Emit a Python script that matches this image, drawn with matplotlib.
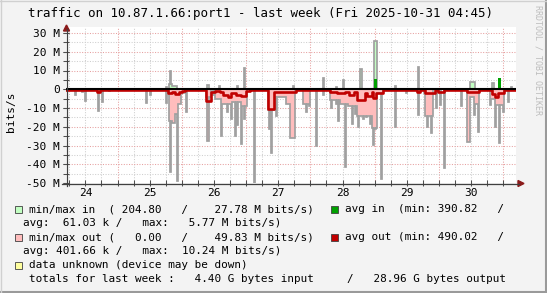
import numpy as np
import matplotlib.pyplot as plt
from matplotlib.patches import Rectangle, Polygon
from matplotlib.lines import Line2D

W, H = 547, 293
MONO = 'DejaVu Sans Mono'

# time axis in day-of-month: Oct 24 04:45 -> Oct 31 04:45
t_start = 24 + 4.75 / 24
t_end = t_start + 7
day_ticks = [24.5, 25.5, 26.5, 27.5, 28.5, 29.5, 30.5]
day_labels = ['24', '25', '26', '27', '28', '29', '30']

y_ticks = [30, 20, 10, 0, -10, -20, -30, -40, -50]
y_labels = ['30 M', '20 M', '10 M', '0', '-10 M', '-20 M', '-30 M', '-40 M', '-50 M']

# min/max out: narrow spikes (day, Mbit/s)
out_spike_day = [24.338, 24.447, 24.509, 24.707, 24.769, 24.882, 25.453, 25.516,
                 25.764, 25.827, 25.936, 26.065, 26.407, 26.489, 26.620, 26.713,
                 26.776, 26.842, 26.869, 26.931, 26.982, 27.127, 27.356, 27.398,
                 27.476, 27.605, 27.942, 27.978, 28.087, 28.200, 28.331, 28.398,
                 28.434, 28.538, 28.589, 28.658, 28.704, 28.745, 28.823, 28.875,
                 28.942, 28.978, 29.020, 29.103, 29.331, 29.498, 29.678, 29.767,
                 29.824, 29.887, 29.954, 30.027, 30.078, 30.353, 30.471, 30.560,
                 30.622, 30.809, 30.882, 30.938, 31.011, 31.089]
out_spike_val = [-3.2, -1.5, -6, -11.8, -7, -1, -7.5, -3,
                 -7.5, -44, -49, -12, -27.8, -3, -25, -12,
                 -16, -25, -19, -29, -16, -49.8, -21, -34,
                 -14, -3, -12, -9, -30.4, -3, -10, -8,
                 -17, -41.5, -8, -18.6, -13, -20, -16, -15,
                 -18.6, -29.5, -21, -48, -20, -2, -13.6, -2,
                 -20, -23.5, -10, -8.6, -42, -9, -28, -13.6,
                 -22.6, -8.6, -20, -28.6, -12, -6.6]

# min/max out: wider blocks (start day, end day, Mbit/s)
out_band_start = [25.802, 25.849, 25.887, 25.926, 25.987, 26.376, 26.385, 26.516,
                  26.620, 26.780, 26.930, 27.340, 27.450, 27.620, 27.682, 27.885,
                  28.305, 28.461, 28.589, 28.720, 28.953, 29.040, 29.782, 30.431,
                  30.482, 30.560, 30.793, 30.871]
out_band_end = [25.849, 25.887, 25.926, 25.987, 26.065, 26.454, 26.430, 26.620,
                26.780, 26.930, 27.010, 27.450, 27.620, 27.682, 27.760, 27.994,
                28.461, 28.589, 28.720, 28.953, 29.040, 29.129, 29.911, 30.482,
                30.560, 30.622, 30.871, 31.011]
out_band_val = [-17, -18, -13, -8, -2, -4, -27.8, -5,
                -8, -7, -9, -11, -4, -8, -26, -8,
                -5.5, -8, -9, -14, -20.5, -2, -14, -28,
                -4, -8, -5, -8.6]

# min/max in: spikes and blocks
in_spike_day = [25.764, 25.827, 26.578, 26.873, 26.982, 27.734, 28.200, 28.398,
                28.512, 29.331, 29.678, 31.131]
in_spike_val = [1, 10, 2, 2, 11.4, 2, 6, 1,
                5, 2, 12, 1]
in_band_start = [25.802, 25.849, 26.385, 28.775, 28.985, 30.482, 30.830]
in_band_end = [25.849, 25.926, 26.430, 28.810, 29.035, 30.560, 30.860]
in_band_val = [2.8, 1.6, 2.1, 10.8, 26, 3.7, 3.5]

# avg in (start, end, Mbit/s)
avg_in_start = [26.970, 28.740, 28.985, 29.660, 30.340, 30.918]
avg_in_end = [27.000, 28.770, 29.030, 29.700, 30.370, 30.965]
avg_in_val = [0.5, 0.5, 5.7, 0.6, 0.4, 6.0]

# avg out, step breakpoints
avg_out_day = [24.198, 24.680, 24.727, 25.785, 25.847, 25.894, 25.956, 26.002, 26.049,
               26.376, 26.454, 26.516, 26.594, 26.640, 26.718, 26.765, 26.843, 26.920,
               26.998, 27.060, 27.340, 27.433, 27.776, 28.305, 28.414, 28.538, 28.600,
               28.678, 28.725, 28.849, 28.880, 28.958, 28.974, 29.020, 29.051, 29.129,
               29.658, 29.705, 29.782, 29.938, 29.985, 30.078, 30.436, 30.622, 30.825,
               30.871, 30.918, 31.011]
avg_out_val = [-0.6, -1.6, -0.6, -1.8, -1.2, -2.4, -1.6, -1.0, -0.6,
               -6.2, -1.4, -0.8, -1.2, -3.0, -4.0, -2.0, -3.0, -3.8,
               -1.0, -0.6, -10.3, -1.2, -0.6, -1.5, -2.0, -1.5, -3.0,
               -1.5, -5.6, -2.0, -3.5, -1.5, -4.8, -2.0, -1.8, -0.6,
               -1.5, -0.6, -2.0, -0.6, -1.5, -0.6, -1.5, -0.6, -2.5,
               -4.0, -2.0, -0.6]

C_GRAY = '#a0a0a0'
C_PINK = '#ffbdbd'
C_LGREEN = '#c2ffc2'
C_GREEN = '#00a000'
C_RED = '#c00000'


def fx(x):
    return x / W


def fy(y):
    return 1 - y / H


fig = plt.figure(figsize=(W / 100, H / 100), dpi=100, facecolor='#f3f3f3')
ax = fig.add_axes([fx(66), fy(183), 450 / W, 156 / H])
ax.set_facecolor('white')
ax.set_xlim(t_start, t_end)
ax.set_ylim(-50, 33.2)
for s in ax.spines.values():
    s.set_visible(False)

# grid
for d in np.arange(24.25, 31.2, 0.25):
    if d <= t_start or d >= t_end:
        continue
    major = abs(d - round(d)) < 1e-6
    ax.axvline(d, color='#e6a0a0' if major else '#cfcfcf', lw=0.75,
               ls=(0, (1, 1.5)), zorder=0)
for v in range(-45, 35, 5):
    major = v % 10 == 0
    ax.axhline(v, color='#e6a0a0' if major else '#cfcfcf', lw=0.75,
               ls=(0, (1, 1.5)), zorder=0)

# build per-pixel envelopes
edges = np.linspace(t_start, t_end, 451)
centers = (edges[:-1] + edges[1:]) / 2


def envelope(starts, ends, vals, sdays, svals, neg):
    env = np.zeros(len(centers))
    pick = np.minimum if neg else np.maximum
    for s, e, v in zip(starts, ends, vals):
        m = (centers >= s) & (centers < e)
        env[m] = pick(env[m], v)
    for d, v in zip(sdays, svals):
        i = np.argmin(np.abs(centers - d))
        env[i] = pick(env[i], v)
    return env


env_out = envelope(out_band_start, out_band_end, out_band_val, out_spike_day, out_spike_val, True)
env_in = envelope(in_band_start, in_band_end, in_band_val, in_spike_day, in_spike_val, False)

ax.stairs(env_out, edges, baseline=0, fill=True, color=C_PINK, lw=0, zorder=2)
ax.stairs(env_out, edges, baseline=0, color=C_GRAY, lw=1.25, zorder=3)
ax.stairs(env_in, edges, baseline=0, fill=True, color=C_LGREEN, lw=0, zorder=2)
ax.stairs(env_in, edges, baseline=0, color=C_GRAY, lw=1.25, zorder=3)

avg_in = envelope(avg_in_start, avg_in_end, avg_in_val, [], [], False)
ax.stairs(avg_in, edges, baseline=0, fill=True, color=C_GREEN, lw=0, zorder=4)

ax.step(avg_out_day + [t_end], avg_out_val + [avg_out_val[-1]], where='post',
        color=C_RED, lw=1.9, zorder=5)
ax.axhline(0, color='black', lw=1.5, zorder=6)

# ticks
ax.set_yticks(y_ticks)
ax.set_yticklabels(y_labels, family=MONO, fontsize=8)
ax.set_yticks(range(-50, 35, 5), minor=True)
ax.yaxis.remove_overlapping_locs = False
ax.tick_params(axis='y', which='both', direction='inout', length=4, width=0.75,
               color='#505050', pad=2.2)
ax.set_xticks(day_ticks)
ax.set_xticklabels(day_labels, family=MONO, fontsize=8)
ax.set_xticks(np.arange(24.25, 31.2, 0.25), minor=True)
ax.xaxis.remove_overlapping_locs = False
ax.tick_params(axis='x', which='major', length=0, pad=3.6)
ax.tick_params(axis='x', which='minor', direction='inout', length=4, width=0.75,
               color='#505050')
ax.set_xlim(t_start, t_end)

# axes with arrows
fig.add_artist(Line2D([fx(66.5), fx(66.5)], [fy(186), fy(29)], color='#404040', lw=0.9))
fig.add_artist(Line2D([fx(62), fx(519)], [fy(183.5), fy(183.5)], color='#404040', lw=0.9))
fig.add_artist(Polygon([[fx(63.5), fy(31)], [fx(69.5), fy(31)], [fx(66.5), fy(25)]],
                       closed=True, color='#8b1a1a'))
fig.add_artist(Polygon([[fx(518), fy(180.5)], [fx(518), fy(186.5)], [fx(524), fy(183.5)]],
                       closed=True, color='#8b1a1a'))

# texts
fig.text(fx(260.5), fy(13.5), 'traffic on 10.87.1.66:port1 - last week (Fri 2025-10-31 04:45)',
         family=MONO, fontsize=9, ha='center', va='center')
fig.text(fx(11), fy(112), 'bits/s', family=MONO, fontsize=8, rotation=90,
         ha='center', va='center')
fig.text(fx(538), fy(5), 'RRDTOOL / TOBI OETIKER', family=MONO, fontsize=6,
         rotation=270, ha='center', va='top', color='#bdbdbd')

rows = [
    (209.5, 29, 'min/max in  ( 204.80   /    27.78 M bits/s)'),
    (209.5, 345, 'avg in  (min: 390.82   /'),
    (223.0, 22.7, 'avg:  61.03 k /   max:   5.77 M bits/s)'),
    (237.3, 29, 'min/max out (   0.00   /    49.83 M bits/s)'),
    (237.3, 345, 'avg out (min: 490.02   /'),
    (250.8, 22.7, 'avg: 401.66 k /   max:  10.24 M bits/s)'),
    (265.3, 29, 'data unknown (device may be down)'),
    (278.8, 29, 'totals for last week :   4.40 G bytes input     /   28.96 G bytes output'),
]
for y, x, s in rows:
    fig.text(fx(x), fy(y), s, family=MONO, fontsize=7.95, ha='left', va='center')

squares = [(15, 206, C_LGREEN), (331, 206, C_GREEN), (15, 234, C_PINK),
           (331, 234, C_RED), (15, 262, '#ffff9f')]
for x, y, c in squares:
    fig.add_artist(Rectangle((fx(x), fy(y + 7)), 7 / W, 7 / H, facecolor=c,
                             edgecolor='#404040', lw=0.6))

# frame shading
fig.add_artist(Line2D([fx(546), fx(546)], [0, 1], color='#9a9a9a', lw=1.5))
fig.add_artist(Line2D([0, 1], [fy(292), fy(292)], color='#9a9a9a', lw=1.5))
fig.add_artist(Line2D([fx(0.5), fx(0.5)], [0, 1], color='#d0d0d0', lw=1.0))
fig.add_artist(Line2D([0, 1], [fy(0.5), fy(0.5)], color='#d0d0d0', lw=1.0))

fig.savefig('out.png', dpi=100, facecolor=fig.get_facecolor())
